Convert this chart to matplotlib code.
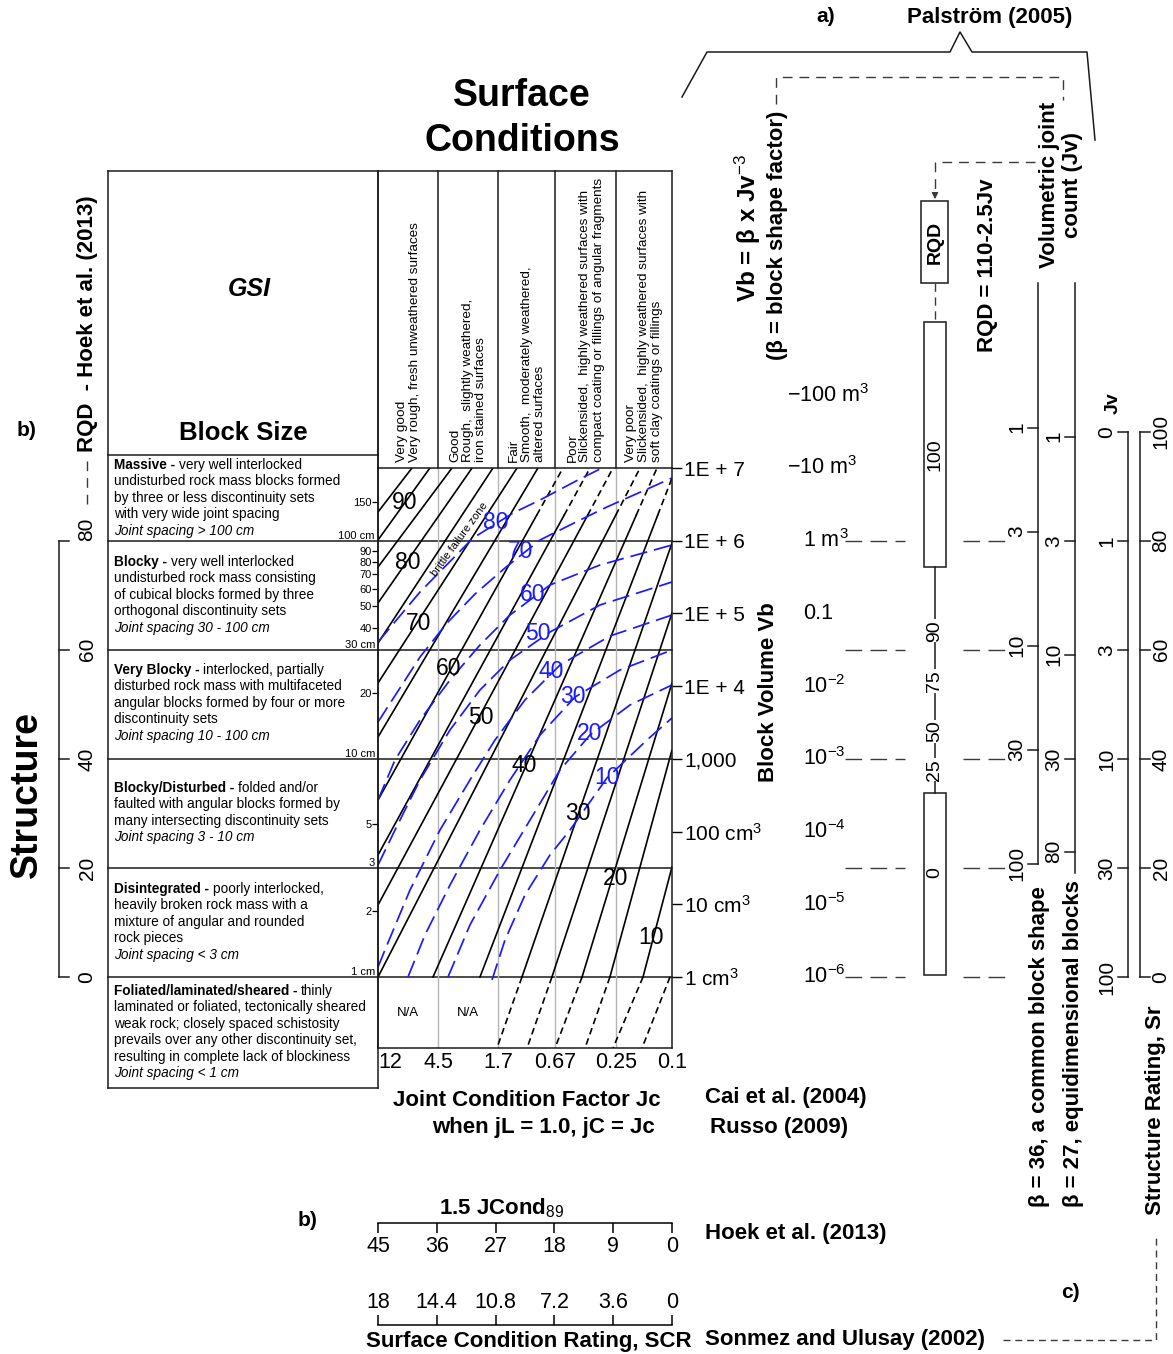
import numpy as np
import matplotlib
matplotlib.use("Agg")
import matplotlib.pyplot as plt
from matplotlib import transforms
from matplotlib.patches import Rectangle
from matplotlib.ticker import NullLocator

plt.rcParams['font.family'] = ['Liberation Sans', 'DejaVu Sans']
plt.rcParams['mathtext.fontset'] = 'custom'
plt.rcParams['mathtext.rm'] = 'Liberation Sans'
plt.rcParams['mathtext.it'] = 'Liberation Sans:italic'
plt.rcParams['mathtext.bf'] = 'Liberation Sans:bold'

# ---------------- data ----------------
# chart axes: joint condition factor Jc (log, 12 -> 0.1), block volume Vb in cm3 (log)
JC_TICKS = [12, 4.5, 1.7, 0.67, 0.25, 0.1]
JC_TICK_LABELS = ['12', '4.5', '1.7', '0.67', '0.25', '0.1']
VB_TICKS = [1e7, 1e6, 1e5, 1e4, 1e3, 1e2, 1e1, 1]
VB_TICK_LABELS = ['1E + 7', '1E + 6', '1E + 5', '1E + 4', '1,000',
                  '100 cm$^3$', '10 cm$^3$', '1 cm$^3$']
M3_VB = [1e8, 1e7, 1e6, 1e5, 1e4, 1e3, 1e2, 1e1, 1]
M3_LABELS = ['\u2212100 m$^3$', '\u221210 m$^3$', '1 m$^3$', '0.1', '10$^{-2}$',
             '10$^{-3}$', '10$^{-4}$', '10$^{-5}$', '10$^{-6}$']
VB_BOTTOM_LOG = -0.977          # lower edge of the foliated row

# structure rows (block volume at row boundaries) and joint spacing marks
ROW_LOG_VB = [6.0, 4.5, 3.0, 1.5, 0.0]
ROW_EDGE_LABELS = ['100 cm', '30 cm', '10 cm', '3', '1 cm']
SPACING_TICKS = [150, 90, 80, 70, 60, 50, 40, 20, 5, 2]

# Cai et al. (2004) GSI lines, log10 Jc / log10 Vb of both ends
GSI_LEVELS = [95, 90, 85, 80, 75, 70, 65, 60, 55, 50, 45, 40, 35, 30, 25, 20, 15, 10]
GSI_LO_LOGJC = [1.079, 1.079, 1.079, 1.079, 1.079, 1.079, 1.079, 1.079, 1.079,
                1.079, 1.079, 0.690, 0.358, 0.061, -0.151, -0.364, -0.561, -0.795]
GSI_LO_LOGVB = [6.395, 6.010, 5.638, 5.143, 4.593, 4.043, 3.300, 2.434, 1.678,
                0.990, 0.0, 0.0, 0.0, 0.0, 0.0, 0.0, 0.0, 0.0]
GSI_HI_LOGJC = [0.839, 0.712, 0.556, 0.414, 0.266, 0.096, -0.052, -0.229, -0.420,
                -0.583, -0.774, -0.894, -1.0, -1.0, -1.0, -1.0, -1.0, -1.0]
GSI_HI_LOGVB = [7.0, 7.0, 7.0, 7.0, 7.0, 7.0, 7.0, 7.0, 7.0,
                7.0, 7.0, 7.0, 6.862, 5.969, 5.006, 4.043, 3.122, 1.513]
DASHED_TOP_GSI = [60, 55, 50, 45, 40, 35]
DASH_ABOVE_LOGVB = 6.35
FOL_GSI = [30, 25, 20, 15, 10, 5]
FOL_TOP_LOGJC = [0.061, -0.151, -0.364, -0.561, -0.795, -0.986]
FOL_BOT_LOGJC = [0.238, 0.025, -0.173, -0.385, -0.583, -0.788]
GSI_LABELS = [90, 80, 70, 60, 50, 40, 30, 20, 10]
GSI_LABEL_LOGJC = [0.888, 0.867, 0.789, 0.577, 0.351, 0.046, -0.335, -0.604, -0.852]
GSI_LABEL_LOGVB = [6.532, 5.707, 4.855, 4.236, 3.562, 2.902, 2.255, 1.361, 0.536]

# Hoek et al. (2013) GSI curves
HOEK_GSI = [80, 70, 60, 50, 40, 30, 20, 10]
HOEK_LOGJC = [
    [1.079, 0.782, 0.407, 0.124, -0.067, -0.335, -0.505],
    [1.079, 0.782, 0.591, 0.393, 0.181, -0.067, -0.350, -0.540, -1.0],
    [1.079, 0.959, 0.782, 0.570, 0.358, 0.146, -0.137, -0.491, -1.0],
    [1.079, 0.959, 0.782, 0.570, 0.358, 0.146, -0.137, -0.491, -1.0],
    [1.079, 1.030, 0.853, 0.641, 0.429, 0.252, 0.040, -0.208, -0.561, -1.0],
    [0.867, 0.747, 0.570, 0.358, 0.146, -0.067, -0.314, -0.632, -1.0],
    [0.584, 0.429, 0.216, 0.004, -0.208, -0.420, -0.703, -1.0],
    [0.273, 0.181, 0.040, -0.137, -0.279, -0.540, -0.823, -1.0],
]
HOEK_LOGVB = [
    [4.607, 5.295, 6.037, 6.381, 6.560, 6.835, 7.0],
    [3.507, 4.401, 4.868, 5.267, 5.625, 6.010, 6.285, 6.464, 6.862],
    [2.434, 2.984, 3.534, 4.084, 4.566, 4.978, 5.391, 5.666, 5.941],
    [1.540, 2.021, 2.709, 3.397, 3.947, 4.359, 4.744, 5.116, 5.432],
    [0.137, 0.371, 1.196, 2.021, 2.709, 3.259, 3.809, 4.290, 4.689, 4.978],
    [0.0, 0.578, 1.265, 2.021, 2.709, 3.328, 3.850, 4.222, 4.497],
    [0.0, 0.715, 1.471, 2.159, 2.847, 3.328, 3.741, 4.016],
    [-0.041, 0.509, 1.127, 1.678, 2.021, 2.737, 3.259, 3.562],
]
HOEK_LABEL_LOGJC = [0.245, 0.068, -0.017, -0.052, -0.144, -0.300, -0.420, -0.540]
HOEK_LABEL_LOGVB = [6.257, 5.845, 5.267, 4.717, 4.208, 3.864, 3.355, 2.737]

# side scales
RQD_HOEK_LABELS = ['80', '60', '40', '20', '0']
JCOND_TICKS = [45, 36, 27, 18, 9, 0]
SCR_TICKS = [18, 14.4, 10.8, 7.2, 3.6, 0]
SCR_LABELS = ['18', '14.4', '10.8', '7.2', '3.6', '0']
RQD_MID_LABELS = ['90', '75', '50', '25']
RQD_MID_LOGVB = [4.76, 4.07, 3.38, 2.85]
RQD_BOXES = [(5.64, 9.01), (0.03, 2.53)]
RQD_BOX_LABELS = ['100', '0']
RQD_BOX_LABEL_LOGVB = [7.18, 1.44]
BETA_COMMON, BETA_EQUI = 36, 27
JV_COMMON = [1, 3, 10, 30, 100]
JV_EQUI = [1, 3, 10, 30, 80]
SR_LOG_VB = [7.5, 6.0, 4.5, 3.0, 1.5, 0.0]
SR_LABELS = ['100', '80', '60', '40', '20', '0']
JV_SR_LABELS = ['0', '1', '3', '10', '30', '100']

SURFACE_TEXT = [
    "Very good\nVery rough, fresh unweathered surfaces",
    "Good\nRough,  slightly weathered,\niron stained surfaces",
    "Fair\nSmooth,  moderately weathered,\naltered surfaces",
    "Poor\nSlickensided,  highly weathered surfaces with\ncompact coating or fillings of angular fragments",
    "Very poor\nSlickensided,  highly weathered surfaces with\nsoft clay coatings or fillings",
]
ROW_TITLES = ['Massive -', 'Blocky -', 'Very Blocky -', 'Blocky/Disturbed -',
              'Disintegrated -', 'Foliated/laminated/sheared -']
ROW_LINES = [
    ['very well interlocked', 'undisturbed rock mass blocks formed',
     'by three or less discontinuity sets', 'with very wide joint spacing',
     'Joint spacing > 100 cm'],
    ['very well interlocked', 'undisturbed rock mass consisting',
     'of cubical blocks formed by three', 'orthogonal discontinuity sets',
     'Joint spacing 30 - 100 cm'],
    ['interlocked, partially', 'disturbed rock mass with multifaceted',
     'angular blocks formed by four or more', 'discontinuity sets',
     'Joint spacing 10 - 100 cm'],
    ['folded and/or', 'faulted with angular blocks formed by',
     'many intersecting discontinuity sets', 'Joint spacing 3 - 10 cm'],
    ['poorly interlocked,', 'heavily broken rock mass with a',
     'mixture of angular and rounded', 'rock pieces', 'Joint spacing < 3 cm'],
    ['thinly', 'laminated or foliated, tectonically sheared',
     'weak rock; closely spaced schistosity',
     'prevails over any other discontinuity set,',
     'resulting in complete lack of blockiness', 'Joint spacing < 1 cm'],
]
ROW_FIRST_Y = [465, 562, 670, 788, 889, 991]

# ---------------- figure ----------------
W, H = 1173, 1354
X0, X1, Y0, Y1 = 378, 672, 468, 1048
LINE = '#1a1a1a'
BLUE = '#1a1aff'
DASH = '#3a3a3a'
ROW_FS = 9.8

fig = plt.figure(figsize=(W / 100, H / 100), dpi=100)
ax = fig.add_axes([0, 0, 1, 1])
ax.set_xlim(0, W)
ax.set_ylim(H, 0)
ax.axis('off')

cx = fig.add_axes([X0 / W, 1 - Y1 / H, (X1 - X0) / W, (Y1 - Y0) / H])
cx.set_facecolor('none')
cx.set_xscale('log')
cx.set_yscale('log')
cx.set_xlim(12, 0.1)
cx.set_ylim(10 ** VB_BOTTOM_LOG, 1e7)
for s in cx.spines.values():
    s.set_color(LINE)
    s.set_linewidth(1.1)

bt = transforms.blended_transform_factory(ax.transData, cx.transData)  # x px, y Vb
bx = transforms.blended_transform_factory(cx.transData, ax.transData)  # x Jc, y px

# chart ticks
cx.set_xticks(JC_TICKS, JC_TICK_LABELS)
cx.xaxis.set_minor_locator(NullLocator())
cx.tick_params(axis='x', length=0, labelsize=15.5, pad=3)
for lbl in cx.get_xticklabels():
    if lbl.get_text() == '12':
        lbl.set_ha('left')
cx.yaxis.tick_right()
cx.set_yticks(VB_TICKS, VB_TICK_LABELS)
cx.yaxis.set_minor_locator(NullLocator())
cx.tick_params(axis='y', direction='out', length=7, width=1, labelsize=15, pad=2)

sec = cx.secondary_yaxis('left', functions=(np.cbrt, lambda s: np.power(s, 3)))
sec.set_yticks(SPACING_TICKS, [str(v) for v in SPACING_TICKS])
sec.yaxis.set_minor_locator(NullLocator())
sec.tick_params(length=4, width=0.9, labelsize=8, pad=0.5)
sec.spines['left'].set_visible(False)

# column separators
for jc in JC_TICKS[1:-1]:
    cx.axvline(jc, color='#b4b4b4', lw=1, zorder=0)
for jc in JC_TICKS:
    ax.plot([jc, jc], [171, 468], transform=bx, color=LINE, lw=1.1)

# table frame
ax.plot([108, 672], [171, 171], color=LINE, lw=1.1)
ax.plot([108, 108], [171, 1088], color=LINE, lw=1.1)
ax.plot([378, 378], [171, 1088], color=LINE, lw=1.1)
ax.plot([108, 378], [455, 455], color=LINE, lw=1.1)
ax.plot([108, 378], [1088, 1088], color=LINE, lw=1.1)
for lv in ROW_LOG_VB:
    ax.plot([108, 672], [10 ** lv, 10 ** lv], transform=bt, color=LINE, lw=1.1)
for lv, s in zip(ROW_LOG_VB, ROW_EDGE_LABELS):
    ax.text(375, 10 ** lv, s, transform=bt, ha='right', va='bottom', fontsize=8)

# GSI lines (Cai et al.)
for g, j0, v0, j1, v1 in zip(GSI_LEVELS, GSI_LO_LOGJC, GSI_LO_LOGVB, GSI_HI_LOGJC, GSI_HI_LOGVB):
    if g in DASHED_TOP_GSI:
        t = (DASH_ABOVE_LOGVB - v0) / (v1 - v0)
        jm = j0 + t * (j1 - j0)
        cx.plot(10 ** np.array([j0, jm]), 10 ** np.array([v0, DASH_ABOVE_LOGVB]), color='k', lw=1.2)
        cx.plot(10 ** np.array([jm, j1]), 10 ** np.array([DASH_ABOVE_LOGVB, v1]), color='k', lw=1.2,
                ls=(0, (4, 2.5)))
    else:
        cx.plot(10 ** np.array([j0, j1]), 10 ** np.array([v0, v1]), color='k', lw=1.2)
for jt, jb in zip(FOL_TOP_LOGJC, FOL_BOT_LOGJC):
    cx.plot([10 ** jt, 10 ** jb], [1, 10 ** VB_BOTTOM_LOG], color='k', lw=1.2, ls=(0, (4, 2.5)))
for g, j, v in zip(GSI_LABELS, GSI_LABEL_LOGJC, GSI_LABEL_LOGVB):
    cx.text(10 ** j, 10 ** v, str(g), fontsize=16.5, ha='center', va='center', color='k')

# Hoek GSI curves
for j, v in zip(HOEK_LOGJC, HOEK_LOGVB):
    cx.plot(10 ** np.array(j), 10 ** np.array(v), color=BLUE, lw=1.25, ls=(0, (10, 4)))
for g, j, v in zip(HOEK_GSI, HOEK_LABEL_LOGJC, HOEK_LABEL_LOGVB):
    cx.text(10 ** j, 10 ** v, str(g), fontsize=16.5, ha='center', va='center', color=BLUE)

cx.text(10 ** 0.505, 10 ** 6.02, 'brittle failure zone', fontsize=8, rotation=54,
        ha='center', va='center', rotation_mode='anchor')
for jc in [np.sqrt(12 * 4.5), np.sqrt(4.5 * 1.7)]:
    cx.text(jc, 10 ** -0.5, 'N/A', fontsize=9.5, ha='center', va='center')

# header
ax.text(522, 96, 'Surface', fontsize=27, fontweight='bold', ha='center', va='center')
ax.text(522, 141, 'Conditions', fontsize=27, fontweight='bold', ha='center', va='center')
ax.text(249, 289, 'GSI', fontsize=18, fontweight='bold', fontstyle='italic', ha='center', va='center')
ax.text(243, 433, 'Block Size', fontsize=18.5, fontweight='bold', ha='center', va='center')
for k, txt in enumerate(SURFACE_TEXT):
    jc = np.sqrt(JC_TICKS[k] * JC_TICKS[k + 1])
    ax.text(jc, 462, txt, transform=bx, rotation=90, ha='center', va='bottom',
            multialignment='left', fontsize=9.7, linespacing=1.12)

# structure descriptions
for y0, title, lines in zip(ROW_FIRST_Y, ROW_TITLES, ROW_LINES):
    t = ax.text(114, y0, title, fontsize=ROW_FS, fontweight='bold', ha='left', va='center')
    ax.annotate(lines[0], xy=(1, 0.5), xycoords=t, xytext=(2.7, 0), textcoords='offset points',
                fontsize=ROW_FS, ha='left', va='center')
    for i, s in enumerate(lines[1:], start=1):
        style = 'italic' if s.startswith('Joint spacing') else 'normal'
        ax.text(114, y0 + i * 16.4, s, fontsize=ROW_FS, fontstyle=style, ha='left', va='center')

# left RQD scale (Hoek et al. 2013)
ax.plot([59, 59], [10 ** ROW_LOG_VB[0], 10 ** ROW_LOG_VB[-1]], transform=bt, color=LINE, lw=1.1)
for k, (lv, s) in enumerate(zip(ROW_LOG_VB, RQD_HOEK_LABELS)):
    ax.plot([59, 69], [10 ** lv, 10 ** lv], transform=bt, color=LINE, lw=1.1)
    ax.text(87, 10 ** lv, s, transform=bt, rotation=90, ha='center',
            va='bottom' if k == 0 else 'center', fontsize=15)
ax.plot([87, 87], [504, 456], color=DASH, lw=1, ls=(0, (7, 5)))
ax.text(87, 452, 'RQD  - Hoek et al. (2013)', rotation=90, ha='center', va='bottom',
        fontsize=16, fontweight='bold')
ax.text(27, 795, 'Structure', rotation=90, fontsize=27, fontweight='bold', ha='center', va='center')
ax.text(27, 430, 'b)', fontsize=15, fontweight='bold', ha='center', va='center')

# block volume in m3
for v, s in zip(M3_VB, M3_LABELS):
    ax.text(787 if s.startswith('\u2212') else 803, v, s, transform=bt, ha='left', va='center',
            fontsize=15.5)
for lv in ROW_LOG_VB:
    ax.plot([845, 905], [10 ** lv, 10 ** lv], transform=bt, color=DASH, lw=1, ls=(0, (12, 6)))
    ax.plot([963, 1005], [10 ** lv, 10 ** lv], transform=bt, color=DASH, lw=1, ls=(0, (12, 6)))
ax.text(768, 692, 'Block Volume Vb', rotation=90, fontsize=16, fontweight='bold', ha='center', va='center')
ax.text(748, 302, 'Vb = \u03b2 x Jv$^{-3}$', rotation=90, fontsize=17.5, fontweight='bold',
        ha='center', va='bottom')
ax.text(778, 360, '(\u03b2 = block shape factor)', rotation=90, fontsize=16, fontweight='bold',
        ha='center', va='bottom')

# RQD (Palmstrom) column
ax.add_patch(Rectangle((921, 201), 27, 82, fill=False, ec=LINE, lw=1.1))
ax.text(935, 242, 'RQD', rotation=90, fontsize=14, fontweight='bold', ha='center', va='center')
ax.plot([935, 935], [283, 322], color=DASH, lw=1, ls=(0, (6, 4)))
ax.plot([935, 935], [10 ** RQD_BOXES[0][0], 10 ** RQD_BOXES[1][1]], transform=bt, color=LINE, lw=1.1)
for (lo, hi), s, lv in zip(RQD_BOXES, RQD_BOX_LABELS, RQD_BOX_LABEL_LOGVB):
    ax.add_patch(Rectangle((924, 10 ** lo), 22, 10 ** hi - 10 ** lo, transform=bt,
                           fc='white', ec=LINE, lw=1.1))
    ax.text(935, 10 ** lv, s, transform=bt, rotation=90, fontsize=14, ha='center', va='center')
for s, lv in zip(RQD_MID_LABELS, RQD_MID_LOGVB):
    ax.text(935, 10 ** lv, s, transform=bt, rotation=90, fontsize=14, ha='center', va='center',
            bbox=dict(fc='white', ec='none', pad=0.5))
ax.text(988, 352, 'RQD = 110-2.5Jv', rotation=90, fontsize=16, fontweight='bold',
        ha='center', va='bottom')

# volumetric joint count scales
for xl, beta, jvs, bottom in [(1038, BETA_COMMON, JV_COMMON, None), (1075, BETA_EQUI, JV_EQUI, 10 ** 1.43)]:
    vbs = [beta * 1e6 / jv ** 3 for jv in jvs]
    ax.plot([xl, xl], [10 ** 9.54, bottom if bottom else vbs[-1]], transform=bt, color=LINE, lw=1.1)
    for jv, vb in zip(jvs, vbs):
        ax.plot([xl - 10, xl], [vb, vb], transform=bt, color=LINE, lw=1.1)
        ax.text(xl - 21, vb, str(jv), transform=bt, rotation=90, fontsize=15, ha='center', va='center')
ax.text(1061, 185, 'Volumetric joint\ncount (Jv)', rotation=90, fontsize=16, fontweight='bold',
        ha='center', va='center', multialignment='center', linespacing=1.15)

# structure rating scale with Jv
for xl, side in [(1128, -1), (1140, 1)]:
    ax.plot([xl, xl], [10 ** SR_LOG_VB[0], 10 ** SR_LOG_VB[-1]], transform=bt, color=LINE, lw=1.1)
    labels = JV_SR_LABELS if side < 0 else SR_LABELS
    for lv, s in zip(SR_LOG_VB, labels):
        ax.plot([xl, xl + 10 * side], [10 ** lv, 10 ** lv], transform=bt, color=LINE, lw=1.1)
        ax.text(xl + 21 * side, 10 ** lv, s, transform=bt, rotation=90, fontsize=15,
                ha='center', va='center')
ax.text(1113, 403, 'Jv', rotation=90, fontsize=14, fontweight='bold', ha='center', va='center')
ax.text(1040, 1207, '\u03b2 = 36, a common block shape', rotation=90, fontsize=16,
        fontweight='bold', ha='center', va='bottom')
ax.text(1073, 1207, '\u03b2 = 27, equidimensional blocks', rotation=90, fontsize=16,
        fontweight='bold', ha='center', va='bottom')
ax.text(1155, 1215, 'Structure Rating, Sr', rotation=90, fontsize=16, fontweight='bold',
        ha='center', va='bottom')

# Palstrom bracket and leaders
ax.plot([682, 707, 950, 960, 972, 1087, 1095], [97, 52, 52, 32, 52, 52, 140], color=LINE, lw=1.1)
ax.text(990, 18, 'Palstr\u00f6m (2005)', fontsize=16, fontweight='bold', ha='center', va='center')
ax.text(826, 17, 'a)', fontsize=15, fontweight='bold', ha='center', va='center')
ax.plot([776, 776, 1063, 1063], [104, 77, 77, 100], color=DASH, lw=1, ls=(0, (7, 5)))
ax.plot([1035, 935, 935], [162, 162, 192], color=DASH, lw=1, ls=(0, (7, 5)))
ax.annotate('', xy=(935, 202), xytext=(935, 190),
            arrowprops=dict(arrowstyle='-|>', color=DASH, lw=1, mutation_scale=9))

# bottom: joint condition scales
ax.text(527, 1100, 'Joint Condition Factor Jc', fontsize=16, fontweight='bold', ha='center', va='center')
ax.text(543, 1128, 'when jL = 1.0, jC = Jc', fontsize=16, fontweight='bold', ha='center', va='center')
ax.text(705, 1098, 'Cai et al. (2004)', fontsize=16, fontweight='bold', ha='left', va='center')
ax.text(710, 1128, 'Russo (2009)', fontsize=16, fontweight='bold', ha='left', va='center')
ax.text(308, 1220, 'b)', fontsize=15, fontweight='bold', ha='center', va='center')
ax.text(502, 1208, '1.5 JCond$_{89}$', fontsize=16, fontweight='bold', ha='center', va='center')
ax.text(705, 1234, 'Hoek et al. (2013)', fontsize=16, fontweight='bold', ha='left', va='center')
ax.text(692, 1342, 'Surface Condition Rating, SCR', fontsize=16, fontweight='bold', ha='right', va='center')
ax.text(705, 1340, 'Sonmez and Ulusay (2002)', fontsize=16, fontweight='bold', ha='left', va='center')
ax.text(1070, 1293, 'c)', fontsize=15, fontweight='bold', ha='center', va='center')
ax.plot([1003, 1156, 1156], [1340, 1340, 1237], color=DASH, lw=1, ls=(0, (5, 3.5)))

jx = fig.add_axes([X0 / W, 1 - 1223 / H, (X1 - X0) / W, 1 / H])
jx.set_facecolor('none')
jx.set_xlim(45, 0)
jx.set_xticks(JCOND_TICKS, [str(v) for v in JCOND_TICKS])
jx.set_yticks([])
for k in ['top', 'left', 'right']:
    jx.spines[k].set_visible(False)
jx.spines['bottom'].set_linewidth(1.1)
jx.tick_params(axis='x', direction='out', length=7, width=1.1, labelsize=15.5, pad=2)

sx = fig.add_axes([X0 / W, 1 - 1326 / H, (X1 - X0) / W, 1 / H])
sx.set_facecolor('none')
sx.set_xlim(18, 0)
sx.xaxis.tick_top()
sx.set_xticks(SCR_TICKS, SCR_LABELS)
sx.set_yticks([])
for k in ['bottom', 'left', 'right']:
    sx.spines[k].set_visible(False)
sx.spines['top'].set_linewidth(1.1)
sx.tick_params(axis='x', direction='out', length=7, width=1.1, labelsize=15.5, pad=2)

fig.savefig('out.png', dpi=100)
